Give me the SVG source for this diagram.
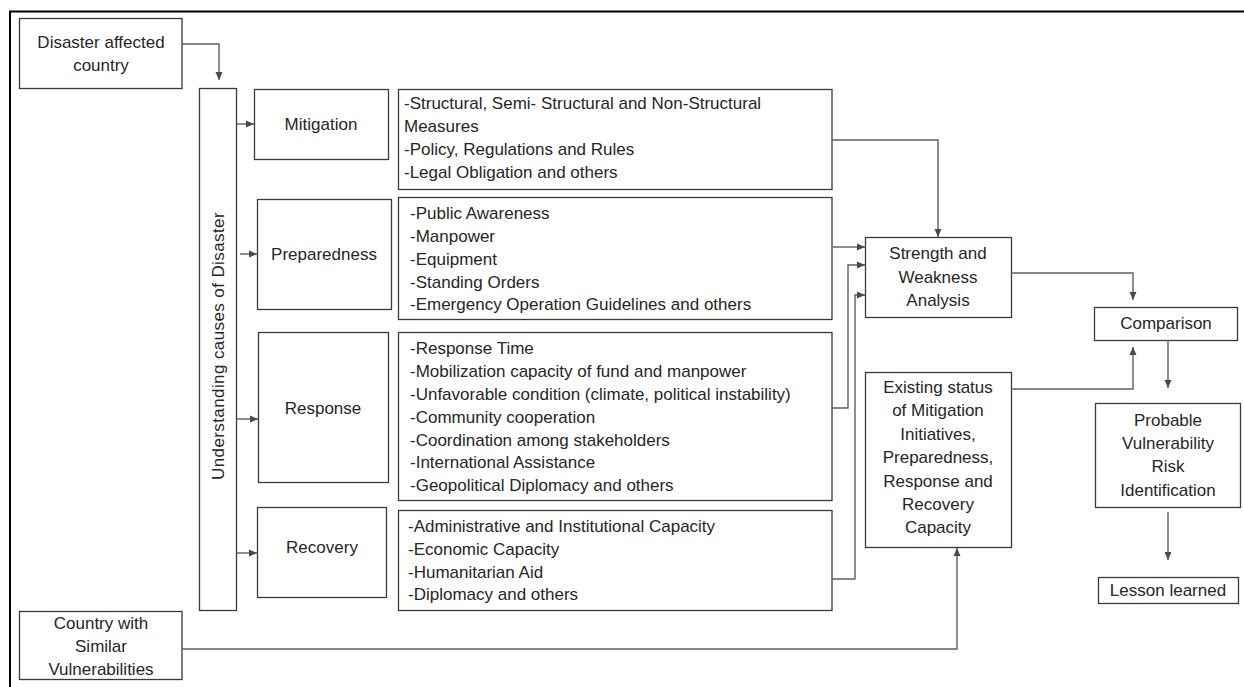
<svg xmlns="http://www.w3.org/2000/svg" width="1244" height="687" viewBox="0 0 1244 687">
<defs>
<style>
.box{fill:#fff;stroke:#3a3a3a;stroke-width:1.3}
.t{font-family:"Liberation Sans",Arial,sans-serif;font-size:17px;fill:#262626}
.c{text-anchor:middle}
.ln{fill:none;stroke:#5f5f5f;stroke-width:1.4}
</style>
<marker id="ah" viewBox="0 0 8 8" refX="8" refY="4" markerWidth="8" markerHeight="8" markerUnits="userSpaceOnUse" orient="auto">
<path d="M0,0.5 L8,4 L0,7.5 z" fill="#4a4a4a"/>
</marker>
</defs>
<rect width="1244" height="687" fill="#fff"/>
<path d="M10,687 V11.5 H1244" fill="none" stroke="#000" stroke-width="2"/>

<g id="n-disaster"><rect class="box" x="19.5" y="18.5" width="162.5" height="70"/><text class="t c" x="101" y="48">Disaster affected</text><text class="t c" x="101" y="71">country</text></g>
<g id="n-understanding"><rect class="box" x="199.5" y="88.5" width="37" height="522"/><text class="t c" letter-spacing="0.4" transform="translate(224,346) rotate(-90)">Understanding causes of Disaster</text></g>
<g id="n-mitigation"><rect class="box" x="254.5" y="89.5" width="134" height="70"/><text class="t c" x="321" y="130">Mitigation</text></g>
<g id="n-preparedness"><rect class="box" x="257.5" y="199.5" width="134" height="110"/><text class="t c" x="324" y="260">Preparedness</text></g>
<g id="n-response"><rect class="box" x="258.5" y="332.5" width="130" height="150"/><text class="t c" x="323" y="414">Response</text></g>
<g id="n-recovery"><rect class="box" x="257.5" y="507.5" width="129" height="90"/><text class="t c" x="322" y="553">Recovery</text></g>

<g id="n-mitigation-list"><rect class="box" x="398.5" y="89.5" width="433.5" height="100"/>
<text class="t" x="404" y="109">-Structural, Semi- Structural and Non-Structural</text>
<text class="t" x="404" y="132">Measures</text>
<text class="t" x="404" y="155">-Policy, Regulations and Rules</text>
<text class="t" x="404" y="178">-Legal Obligation and others</text></g>
<g id="n-preparedness-list"><rect class="box" x="398.5" y="197.5" width="433.5" height="122"/>
<text class="t" x="410" y="219">-Public Awareness</text>
<text class="t" x="410" y="242">-Manpower</text>
<text class="t" x="410" y="265">-Equipment</text>
<text class="t" x="410" y="288">-Standing Orders</text>
<text class="t" x="410" y="310">-Emergency Operation Guidelines and others</text></g>
<g id="n-response-list"><rect class="box" x="398.5" y="332.5" width="433.5" height="168"/>
<text class="t" x="410" y="354">-Response Time</text>
<text class="t" x="410" y="377">-Mobilization capacity of fund and manpower</text>
<text class="t" x="410" y="400">-Unfavorable condition (climate, political instability)</text>
<text class="t" x="410" y="423">-Community cooperation</text>
<text class="t" x="410" y="446">-Coordination among stakeholders</text>
<text class="t" x="410" y="468">-International Assistance</text>
<text class="t" x="410" y="491">-Geopolitical Diplomacy and others</text></g>
<g id="n-recovery-list"><rect class="box" x="398.5" y="510.5" width="433.5" height="100"/>
<text class="t" x="408" y="532">-Administrative and Institutional Capacity</text>
<text class="t" x="408" y="555">-Economic Capacity</text>
<text class="t" x="408" y="578">-Humanitarian Aid</text>
<text class="t" x="408" y="600">-Diplomacy and others</text></g>

<g id="n-strength"><rect class="box" x="865.5" y="237.5" width="146" height="80"/>
<text class="t c" x="938" y="259">Strength and</text>
<text class="t c" x="938" y="283">Weakness</text>
<text class="t c" x="938" y="306">Analysis</text></g>
<g id="n-existing"><rect class="box" x="865.5" y="372.5" width="146" height="175"/>
<text class="t c" x="938" y="393">Existing status</text>
<text class="t c" x="938" y="416">of Mitigation</text>
<text class="t c" x="938" y="440">Initiatives,</text>
<text class="t c" x="938" y="463">Preparedness,</text>
<text class="t c" x="938" y="487">Response and</text>
<text class="t c" x="938" y="510">Recovery</text>
<text class="t c" x="938" y="533">Capacity</text></g>
<g id="n-comparison"><rect class="box" x="1094.5" y="307.5" width="143" height="33"/><text class="t c" x="1166" y="329">Comparison</text></g>
<g id="n-probable"><rect class="box" x="1095.5" y="403.5" width="145" height="104"/>
<text class="t c" x="1168" y="426">Probable</text>
<text class="t c" x="1168" y="449">Vulnerability</text>
<text class="t c" x="1168" y="472">Risk</text>
<text class="t c" x="1168" y="496">Identification</text></g>
<g id="n-lesson"><rect class="box" x="1098.5" y="577.5" width="140" height="26"/><text class="t c" x="1168" y="596">Lesson learned</text></g>
<g id="n-country"><rect class="box" x="19.5" y="611.5" width="162.5" height="68"/>
<text class="t c" x="101" y="629">Country with</text>
<text class="t c" x="101" y="652">Similar</text>
<text class="t c" x="101" y="675">Vulnerabilities</text></g>

<g id="connectors">
<path class="ln" marker-end="url(#ah)" d="M182,44 H219 V80"/>
<path class="ln" marker-end="url(#ah)" d="M237,124 H254"/>
<path class="ln" marker-end="url(#ah)" d="M240,254 H257"/>
<path class="ln" marker-end="url(#ah)" d="M237,419 H258"/>
<path class="ln" marker-end="url(#ah)" d="M237,553 H257"/>
<path class="ln" marker-end="url(#ah)" d="M832,140 H938 V237"/>
<path class="ln" marker-end="url(#ah)" d="M833,247 H865"/>
<path class="ln" marker-end="url(#ah)" d="M832,408 H848 V265 H865"/>
<path class="ln" marker-end="url(#ah)" d="M832,579 H855 V295 H865"/>
<path class="ln" marker-end="url(#ah)" d="M182,649 H957 V548"/>
<path class="ln" marker-end="url(#ah)" d="M1011,273 H1133 V300"/>
<path class="ln" marker-end="url(#ah)" d="M1011,389 H1133 V347"/>
<path class="ln" marker-end="url(#ah)" d="M1168,340 V388"/>
<path class="ln" marker-end="url(#ah)" d="M1168,512 V560"/>
</g>
</svg>
